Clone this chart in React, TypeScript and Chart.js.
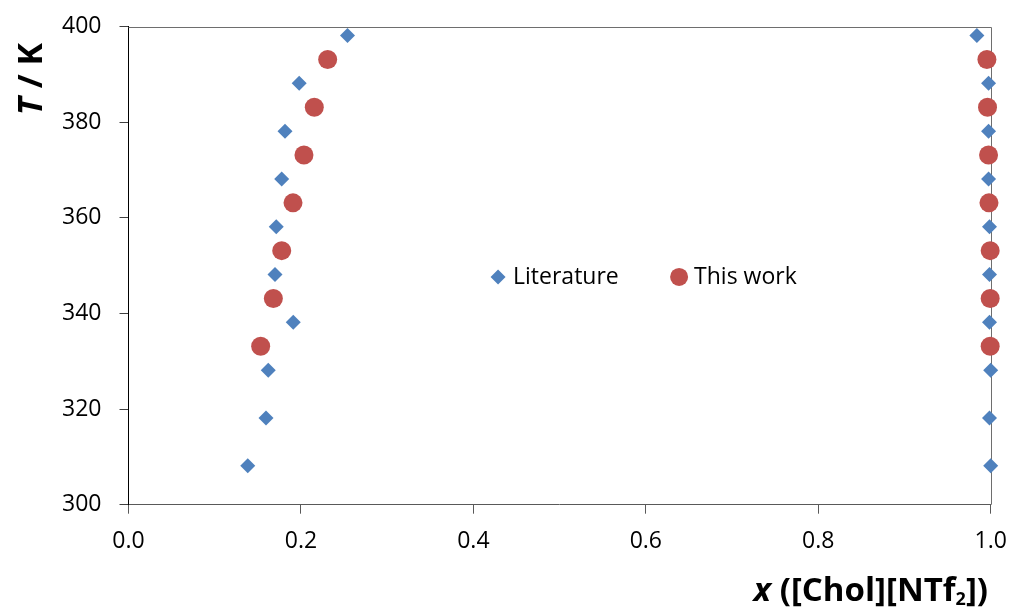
import React, { useEffect, useRef } from "react";
import { Chart, registerables } from "chart.js";

Chart.register(...registerables);

// ---- data ----
const litT = [398.15, 388.15, 378.15, 368.15, 358.15, 348.15, 338.15, 328.15, 318.15, 308.15];
const litXLow = [0.254, 0.198, 0.1815, 0.1777, 0.1714, 0.1699, 0.1911, 0.1621, 0.1595, 0.1383];
const litXHigh = [0.984, 0.9975, 0.9975, 0.9975, 0.9986, 0.9986, 0.9986, 1.0, 0.9986, 1.0];

const workT = [393.15, 383.15, 373.15, 363.15, 353.15, 343.15, 333.15];
const workXLow = [0.231, 0.2155, 0.2035, 0.1908, 0.1777, 0.168, 0.1533];
const workXHigh = [0.9956, 0.9963, 0.9975, 0.998, 0.9994, 0.9994, 0.9994];

const seriesNames = ["Literature", "This work"];
const seriesColors = ["#4F81BD", "#C0504D"];

const xTickValues = [0, 0.2, 0.4, 0.6, 0.8, 1.0];
const yTickValues = [300, 320, 340, 360, 380, 400];

const FONT = "'Open Sans', 'Noto Sans', sans-serif";

function toPoints(xs: number[], ts: number[]) {
  return xs.map((x, i) => ({ x, y: ts[i] }));
}

const decorPlugin = {
  id: "decor",
  beforeDatasetsDraw(chart: any) {
    const { ctx, chartArea: a } = chart;
    ctx.save();
    ctx.strokeStyle = "#6e6e6e";
    ctx.lineWidth = 1;
    ctx.beginPath();
    ctx.moveTo(a.left, Math.round(a.top) + 0.5);
    ctx.lineTo(Math.round(a.right) + 0.5, Math.round(a.top) + 0.5);
    ctx.lineTo(Math.round(a.right) + 0.5, a.bottom);
    ctx.stroke();
    ctx.restore();
  },
  afterDraw(chart: any) {
    const { ctx, chartArea: a } = chart;
    ctx.save();
    // legend inside the plot area
    const ly = a.top + 0.5236 * (a.bottom - a.top);
    const lx1 = a.left + 0.4286 * (a.right - a.left);
    const lx2 = a.left + 0.6386 * (a.right - a.left);
    ctx.fillStyle = seriesColors[0];
    ctx.beginPath();
    ctx.moveTo(lx1 - 7.5, ly);
    ctx.lineTo(lx1, ly - 7.5);
    ctx.lineTo(lx1 + 7.5, ly);
    ctx.lineTo(lx1, ly + 7.5);
    ctx.closePath();
    ctx.fill();
    ctx.fillStyle = seriesColors[1];
    ctx.beginPath();
    ctx.arc(lx2, ly, 9, 0, Math.PI * 2);
    ctx.fill();
    ctx.fillStyle = "#000";
    ctx.font = `23px ${FONT}`;
    ctx.textBaseline = "middle";
    ctx.textAlign = "left";
    ctx.fillText(seriesNames[0], lx1 + 15, ly);
    ctx.fillText(seriesNames[1], lx2 + 15, ly);

    // x axis title, right aligned
    const segs = [
      { t: "x", f: `italic bold 33px ${FONT}`, dy: 0 },
      { t: " ([Chol][NTf", f: `bold 33px ${FONT}`, dy: 0 },
      { t: "2", f: `bold 18px ${FONT}`, dy: 4 },
      { t: "])", f: `bold 33px ${FONT}`, dy: 0 },
    ];
    ctx.textBaseline = "alphabetic";
    let total = 0;
    for (const s of segs) {
      ctx.font = s.f;
      total += ctx.measureText(s.t).width;
    }
    let x = 988 - total;
    const base = 601;
    for (const s of segs) {
      ctx.font = s.f;
      ctx.fillText(s.t, x, base + s.dy);
      x += ctx.measureText(s.t).width;
    }

    // y axis title, rotated
    const ysegs = [
      { t: "T", f: `italic bold 34px ${FONT}` },
      { t: " / K", f: `bold 34px ${FONT}` },
    ];
    let ytotal = 0;
    for (const s of ysegs) {
      ctx.font = s.f;
      ytotal += ctx.measureText(s.t).width;
    }
    ctx.translate(42, 79 + ytotal / 2);
    ctx.rotate(-Math.PI / 2);
    let yx = 0;
    for (const s of ysegs) {
      ctx.font = s.f;
      ctx.fillText(s.t, yx, 0);
      yx += ctx.measureText(s.t).width;
    }
    ctx.restore();
  },
};

export default function App() {
  const canvasRef = useRef<HTMLCanvasElement | null>(null);

  useEffect(() => {
    if (!canvasRef.current) return;
    const chart = new Chart(canvasRef.current, {
      type: "scatter",
      data: {
        datasets: [
          {
            label: seriesNames[0],
            data: [...toPoints(litXLow, litT), ...toPoints(litXHigh, litT)],
            pointStyle: "rectRot",
            pointRadius: 7.5,
            pointBorderWidth: 0,
            backgroundColor: seriesColors[0],
            borderColor: seriesColors[0],
            showLine: false,
            clip: false,
            order: 2,
          },
          {
            label: seriesNames[1],
            data: [...toPoints(workXLow, workT), ...toPoints(workXHigh, workT)],
            pointStyle: "circle",
            pointRadius: 9.5,
            pointBorderWidth: 0,
            backgroundColor: seriesColors[1],
            borderColor: seriesColors[1],
            showLine: false,
            clip: false,
            order: 1,
          },
        ],
      },
      options: {
        animation: false,
        responsive: true,
        maintainAspectRatio: false,
        layout: { padding: { left: 0, right: 22.3, top: 26.7, bottom: 0 } },
        plugins: {
          legend: { display: false },
          tooltip: { enabled: false },
        },
        scales: {
          x: {
            type: "linear",
            min: 0,
            max: 1,
            afterFit: (s: any) => {
              s.height = 104.3;
              s.paddingLeft = 0;
              s.paddingRight = 0;
            },
            afterBuildTicks: (s: any) => {
              s.ticks = xTickValues.map((v) => ({ value: v }));
            },
            ticks: {
              callback: (v: any) => Number(v).toFixed(1),
              font: { family: FONT, size: 23 },
              color: "#000",
              padding: 14,
              maxRotation: 0,
            },
            grid: {
              drawOnChartArea: false,
              drawTicks: true,
              tickLength: 9,
              color: "#595959",
            },
            border: { color: "#595959", width: 1 },
          },
          y: {
            type: "linear",
            min: 300,
            max: 400,
            afterFit: (s: any) => {
              s.width = 128.5;
              s.paddingTop = 0;
              s.paddingBottom = 0;
            },
            afterBuildTicks: (s: any) => {
              s.ticks = yTickValues.map((v) => ({ value: v }));
            },
            ticks: {
              callback: (v: any) => String(v),
              font: { family: FONT, size: 23 },
              color: "#000",
              padding: 18,
            },
            grid: {
              drawOnChartArea: false,
              drawTicks: true,
              tickLength: 9,
              color: "#404040",
            },
            border: { color: "#000", width: 1 },
          },
        },
      },
      plugins: [decorPlugin],
    });
    return () => chart.destroy();
  }, []);

  return (
    <div
      style={{
        position: "fixed",
        left: 0,
        top: 0,
        width: 1013,
        height: 609,
        background: "#fff",
      }}
    >
      <canvas ref={canvasRef} />
    </div>
  );
}
